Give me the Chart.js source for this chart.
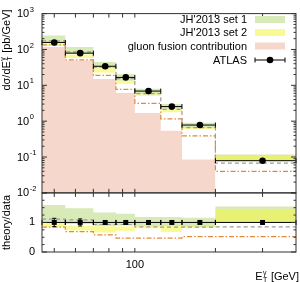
<!DOCTYPE html>
<html>
<head>
<meta charset="utf-8">
<script src="https://cdn.jsdelivr.net/npm/chart.js@4.4.0/dist/chart.umd.min.js"></script>
<style>
  html, body { margin: 0; padding: 0; background: #fff; }
  #wrap { width: 300px; height: 282px; }
</style>
</head>
<body>
<div id="wrap"><canvas id="chart" width="300" height="282"></canvas></div>
<script>
// E_T^gamma bins [GeV] and ATLAS measurement
const binEdges = [45, 55, 70, 85, 100, 125, 150, 200, 400];
const binCenters = [50, 62.5, 77.5, 92.5, 112.5, 137.5, 175, 300];
const atlas = [157, 79, 34, 16.6, 6.9, 2.55, 0.78, 0.079];
const atlasRatioErr = [0.14, 0.12, 0.06, 0.06, 0.06, 0.06, 0.06, 0.06];

// top panel theory, pb/GeV
const set1Lo = [150, 75, 30, 13.5, 5.6, 2.1, 0.64, 0.079];
const set1Hi = [245, 117, 45, 20.5, 8.0, 3.0, 0.91, 0.118];
const set2Lo = [125, 58, 22.6, 11.0, 5.0, 1.76, 0.6, 0.079];
const set2Hi = [150, 72, 30, 13.5, 5.6, 2.1, 0.66, 0.108];
const greyLine = [173, 86, 32, 15.4, 5.9, 2.14, 0.66, 0.068];
const orangeLine = [135, 51, 19, 7.7, 3.15, 1.16, 0.39, 0.040];
const gluonFusion = [117, 49, 15, 6.1, 1.69, 0.54, 0.086];

// bottom panel, theory/data
const r1Lo = [1.0, 0.95, 0.88, 0.9, 0.88, 0.88, 0.84, 1.0];
const r1Hi = [1.59, 1.48, 1.34, 1.29, 1.18, 1.18, 1.16, 1.54];
const r2Lo = [0.84, 0.73, 0.66, 0.72, 0.8, 0.68, 0.82, 1.0];
const r2Hi = [1.0, 0.88, 0.87, 0.86, 0.88, 0.89, 0.87, 1.44];
const greyRatio = [1.11, 1.09, 0.93, 0.93, 0.85, 0.84, 0.84, 0.85];
const orangeRatio = [0.84, 0.69, 0.58, 0.47, 0.47, 0.47, 0.52, 0.52];

const xTicks = [50, 60, 70, 80, 90, 100, 200, 300];
const topExp = [-2, -1, 0, 1, 2, 3];
const ratioTicks = [0, 0.25, 0.5, 0.75, 1, 1.25, 1.5, 1.75, 2];
const legendLabels = ["JH'2013 set 1", "JH'2013 set 2", 'gluon fusion contribution', 'ATLAS'];

const GREEN = '#d7eab8';
const YELLOW = 'rgba(245,245,60,0.55)';
const PINK = '#f5d7cb';
const GREY = '#9a9a9a';
const ORANGE = '#e08a3c';
const FONT = 'Liberation Sans, Arial, sans-serif';

Chart.defaults.font.family = FONT;
Chart.defaults.font.size = 11;
Chart.defaults.color = '#000';

function steps(vals, edges) {
  return edges.map((e, i) => ({ x: e, y: vals[Math.min(i, vals.length - 1)] }));
}

function stepLine(vals, axis, color, dash, order) {
  return {
    data: steps(vals, binEdges), yAxisID: axis, stepped: 'before', order: order,
    borderColor: color, borderWidth: 1.2, borderDash: dash, pointRadius: 0, fill: false
  };
}

function band(lo, hi, axis, color, order) {
  return [
    { data: steps(lo, binEdges), yAxisID: axis, stepped: 'before', order: order,
      borderWidth: 0, borderColor: 'transparent', pointRadius: 0, fill: false },
    { data: steps(hi, binEdges), yAxisID: axis, stepped: 'before', order: order,
      borderWidth: 0, borderColor: 'transparent', pointRadius: 0, fill: '-1', backgroundColor: color }
  ];
}

const datasets = [
  // top panel
  { data: binCenters.map((c, i) => ({ x: c, y: atlas[i] })), yAxisID: 'y', showLine: false, order: 0,
    pointRadius: 3.3, pointBackgroundColor: '#000', pointBorderColor: '#000', pointBorderWidth: 0 },
  stepLine(orangeLine, 'y', ORANGE, [5, 2, 1.5, 2], 1),
  stepLine(greyLine, 'y', GREY, [4, 3], 2),
  ...band(set2Lo, set2Hi, 'y', YELLOW, 3),
  ...band(set1Lo, set1Hi, 'y', GREEN, 4),
  { data: steps(gluonFusion, binEdges.slice(0, gluonFusion.length + 1)), yAxisID: 'y', stepped: 'before',
    order: 5, borderWidth: 0, borderColor: 'transparent', pointRadius: 0, fill: 'start', backgroundColor: PINK },
  // ratio panel
  { data: binCenters.map(c => ({ x: c, y: 1 })), yAxisID: 'yr', showLine: false, order: 0,
    pointStyle: 'rect', pointRadius: 3.5, pointBackgroundColor: '#000', pointBorderColor: '#000', pointBorderWidth: 0 },
  { data: [{ x: binEdges[0], y: 1 }, { x: binEdges[binEdges.length - 1], y: 1 }], yAxisID: 'yr', order: 0,
    borderColor: '#000', borderWidth: 1, pointRadius: 0, fill: false },
  stepLine(orangeRatio, 'yr', ORANGE, [5, 2, 1.5, 2], 1),
  stepLine(greyRatio, 'yr', GREY, [4, 3], 2),
  ...band(r2Lo, r2Hi, 'yr', YELLOW, 3),
  ...band(r1Lo, r1Hi, 'yr', GREEN, 4)
];

// draws T subscript and gamma superscript after E
function drawET(ctx, x, y, pre, post, align) {
  const big = '11px ' + FONT, small = '7px ' + FONT;
  ctx.font = big;
  const wPre = ctx.measureText(pre).width, wPost = ctx.measureText(post).width;
  ctx.font = small;
  const wS = Math.max(ctx.measureText('\u03b3').width, ctx.measureText('T').width);
  const total = wPre + wS + 1 + wPost;
  let x0 = align === 'right' ? x - total : align === 'center' ? x - total / 2 : x;
  ctx.textAlign = 'left';
  ctx.textBaseline = 'alphabetic';
  ctx.font = big;
  ctx.fillText(pre, x0, y);
  x0 += wPre + 0.5;
  ctx.font = small;
  ctx.fillText('\u03b3', x0, y - 5);
  ctx.fillText('T', x0, y + 2);
  x0 += wS + 0.5;
  ctx.font = big;
  ctx.fillText(post, x0, y);
}

const decor = {
  id: 'decor',
  afterDatasetsDraw(chart) {
    const { ctx, chartArea: a, scales } = chart;
    const x = scales.x, yt = scales.y, yr = scales.yr;
    ctx.save();
    ctx.strokeStyle = '#000';
    ctx.lineWidth = 1;
    // ATLAS horizontal error bars
    atlas.forEach((v, i) => {
      const x0 = x.getPixelForValue(binEdges[i]), x1 = x.getPixelForValue(binEdges[i + 1]);
      const py = yt.getPixelForValue(v);
      ctx.beginPath();
      ctx.moveTo(x0, py); ctx.lineTo(x1, py);
      ctx.moveTo(x0, py - 2.5); ctx.lineTo(x0, py + 2.5);
      ctx.moveTo(x1, py - 2.5); ctx.lineTo(x1, py + 2.5);
      ctx.stroke();
    });
    binCenters.forEach((c, i) => {
      const x0 = x.getPixelForValue(binEdges[i]), x1 = x.getPixelForValue(binEdges[i + 1]);
      const pc = x.getPixelForValue(c);
      const py = yr.getPixelForValue(1);
      const e0 = yr.getPixelForValue(1 - atlasRatioErr[i]), e1 = yr.getPixelForValue(1 + atlasRatioErr[i]);
      ctx.beginPath();
      ctx.moveTo(x0, py - 2.5); ctx.lineTo(x0, py + 2.5);
      ctx.moveTo(x1, py - 2.5); ctx.lineTo(x1, py + 2.5);
      ctx.moveTo(pc, e0); ctx.lineTo(pc, e1);
      ctx.moveTo(pc - 2, e0); ctx.lineTo(pc + 2, e0);
      ctx.moveTo(pc - 2, e1); ctx.lineTo(pc + 2, e1);
      ctx.stroke();
    });

    // frames
    ctx.strokeStyle = '#333';
    ctx.strokeRect(a.left, yt.top, a.right - a.left, yt.bottom - yt.top);
    ctx.strokeRect(a.left, yr.top, a.right - a.left, yr.bottom - yr.top);

    // tick marks, all inward
    ctx.beginPath();
    xTicks.forEach(v => {
      const px = x.getPixelForValue(v);
      [[yt.top, 4], [yt.bottom, -4], [yr.top, 4], [yr.bottom, -4]].forEach(([ey, d]) => {
        ctx.moveTo(px, ey); ctx.lineTo(px, ey + d);
      });
    });
    topExp.forEach(e => {
      const py = yt.getPixelForValue(Math.pow(10, e));
      ctx.moveTo(a.left, py); ctx.lineTo(a.left + 5, py);
      ctx.moveTo(a.right, py); ctx.lineTo(a.right - 5, py);
      if (e === 3) return;
      for (let m = 2; m < 10; m++) {
        const pm = yt.getPixelForValue(m * Math.pow(10, e));
        ctx.moveTo(a.left, pm); ctx.lineTo(a.left + 2.5, pm);
        ctx.moveTo(a.right, pm); ctx.lineTo(a.right - 2.5, pm);
      }
    });
    ratioTicks.forEach(v => {
      const py = yr.getPixelForValue(v);
      const len = Number.isInteger(v) ? 5 : 2.5;
      ctx.moveTo(a.left, py); ctx.lineTo(a.left + len, py);
      ctx.moveTo(a.right, py); ctx.lineTo(a.right - len, py);
    });
    ctx.stroke();
    ctx.restore();
  },
  afterDraw(chart) {
    const { ctx, scales } = chart;
    const yt = scales.y, yr = scales.yr;
    ctx.save();
    ctx.fillStyle = '#000';
    // top panel tick labels with exponents
    topExp.forEach(e => {
      const py = yt.getPixelForValue(Math.pow(10, e));
      ctx.font = '11px ' + FONT;
      ctx.textAlign = 'left';
      ctx.textBaseline = 'middle';
      ctx.fillText('10', 17, py + 0.5);
      const w = ctx.measureText('10').width;
      ctx.font = '7.5px ' + FONT;
      ctx.fillText(String(e), 17 + w + 0.5, py - 4);
    });

    // legend
    const rowsY = [19.5, 32.5, 46, 60];
    const sw = [GREEN, 'rgb(250,250,148)', PINK];
    ctx.font = '11px ' + FONT;
    ctx.textAlign = 'right';
    ctx.textBaseline = 'middle';
    legendLabels.forEach((t, i) => {
      ctx.fillStyle = '#000';
      ctx.fillText(t, 247, rowsY[i] + 0.5);
      if (i < 3) {
        ctx.fillStyle = sw[i];
        ctx.fillRect(255, rowsY[i] - 3.5, 30, 7);
      }
    });
    const ly = rowsY[3];
    ctx.strokeStyle = '#000';
    ctx.lineWidth = 1;
    ctx.beginPath();
    ctx.moveTo(255, ly); ctx.lineTo(285, ly);
    ctx.moveTo(255, ly - 2.5); ctx.lineTo(255, ly + 2.5);
    ctx.moveTo(285, ly - 2.5); ctx.lineTo(285, ly + 2.5);
    ctx.stroke();
    ctx.fillStyle = '#000';
    ctx.beginPath();
    ctx.arc(270, ly, 3.3, 0, Math.PI * 2);
    ctx.fill();

    // axis titles
    drawET(ctx, 299, 279.5, 'E', ' [GeV]', 'right');
    ctx.save();
    ctx.translate(10, 50);
    ctx.rotate(-Math.PI / 2);
    drawET(ctx, 0, 0, 'd\u03c3/dE', ' [pb/GeV]', 'center');
    ctx.restore();
    ctx.save();
    ctx.translate(10, (yr.top + yr.bottom) / 2);
    ctx.rotate(-Math.PI / 2);
    ctx.font = '11px ' + FONT;
    ctx.textAlign = 'center';
    ctx.textBaseline = 'alphabetic';
    ctx.fillText('theory/data', 0, 0);
    ctx.restore();
    ctx.restore();
  }
};

new Chart(document.getElementById('chart').getContext('2d'), {
  type: 'line',
  data: { datasets: datasets },
  options: {
    responsive: false,
    animation: false,
    layout: { padding: { left: 17, top: 6, right: 3, bottom: 0 } },
    plugins: { legend: { display: false }, tooltip: { enabled: false } },
    scales: {
      x: {
        type: 'logarithmic', min: 45, max: 400, position: 'bottom',
        grid: { display: false, drawTicks: false }, border: { display: false },
        afterBuildTicks: s => { s.ticks = xTicks.map(v => ({ value: v })); },
        ticks: { autoSkip: false, maxRotation: 0, padding: 6, callback: v => (v === 100 ? '100' : '') },
        afterFit: s => { s.height = 30; }
      },
      y: {
        type: 'logarithmic', min: 0.01, max: 1000, position: 'left',
        stack: 'panels', stackWeight: 185, weight: 2,
        grid: { display: false, drawTicks: false }, border: { display: false },
        ticks: { display: false },
        afterFit: s => { s.width = 25; }
      },
      yr: {
        type: 'linear', min: 0, max: 2, position: 'left',
        stack: 'panels', stackWeight: 61, weight: 1,
        grid: { display: false, drawTicks: false }, border: { display: false },
        afterBuildTicks: s => { s.ticks = [{ value: 0 }, { value: 1 }]; },
        ticks: { padding: 7, crossAlign: 'near', callback: v => String(v) },
        afterFit: s => { s.width = 25; }
      }
    }
  },
  plugins: [decor]
});
</script>
</body>
</html>
